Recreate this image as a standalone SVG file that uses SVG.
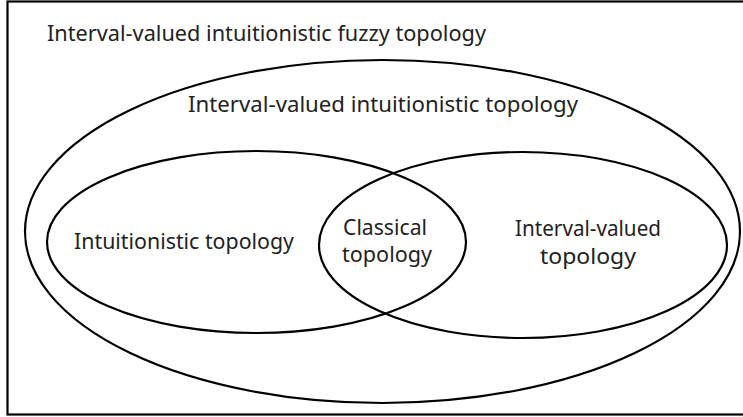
<svg xmlns="http://www.w3.org/2000/svg" width="743" height="417" viewBox="0 0 743 417">
<style>
.s{fill:none;stroke:#000;stroke-width:2.2}
text{font-family:"Noto Sans","Open Sans","DejaVu Sans",sans-serif;font-size:21px;fill:#222}
.m{text-anchor:middle}
</style>
<rect width="743" height="417" fill="#fff"/>
<g id="fuzzy">
<rect class="s" x="7.5" y="1.5" width="740" height="413"/>
<text x="47" y="41" textLength="439" lengthAdjust="spacingAndGlyphs">Interval-valued intuitionistic fuzzy topology</text>
</g>
<g id="ivi">
<ellipse class="s" cx="382.5" cy="231.5" rx="357.5" ry="171.5"/>
<text class="m" x="383" y="112" textLength="390" lengthAdjust="spacingAndGlyphs">Interval-valued intuitionistic topology</text>
</g>
<g id="intuitionistic">
<ellipse class="s" cx="256.5" cy="242" rx="209.5" ry="91"/>
<text class="m" x="184" y="249" textLength="220" lengthAdjust="spacingAndGlyphs">Intuitionistic topology</text>
</g>
<g id="interval">
<ellipse class="s" cx="523" cy="245" rx="204" ry="93"/>
<text class="m" x="588" y="236" textLength="146" lengthAdjust="spacingAndGlyphs">Interval-valued</text>
<text class="m" x="588" y="264" textLength="96" lengthAdjust="spacingAndGlyphs">topology</text>
</g>
<g id="classical">
<text class="m" x="385" y="235" textLength="84" lengthAdjust="spacingAndGlyphs">Classical</text>
<text class="m" x="387" y="262" textLength="90" lengthAdjust="spacingAndGlyphs">topology</text>
</g>
<g id="connectors"/>
</svg>
